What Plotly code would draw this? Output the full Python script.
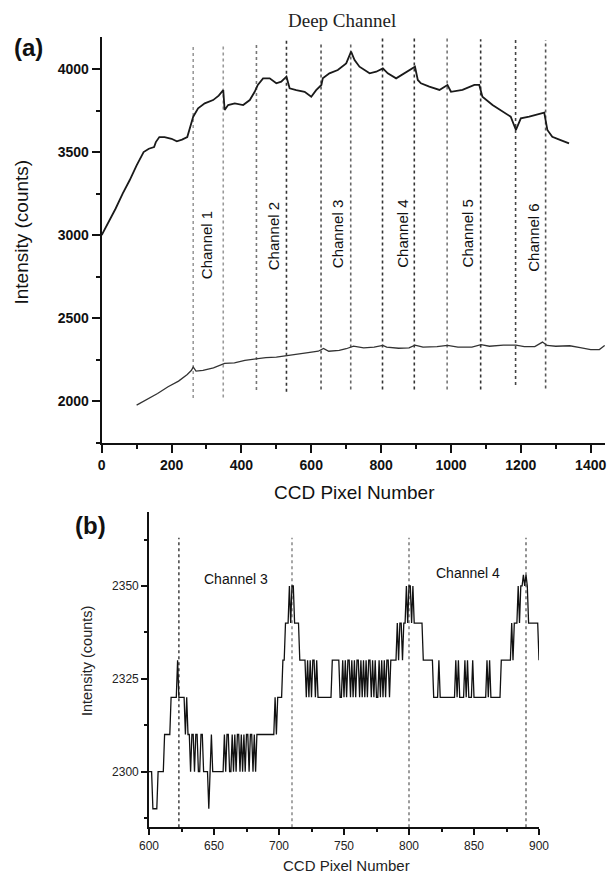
import plotly.graph_objects as go

W, H = 610, 875

# ---------------- Panel (a) data ----------------
deep_x = [0, 20, 40, 60, 80, 100, 120, 135, 150, 155, 165, 180, 200, 215, 230, 245, 252, 262, 276, 295,
          319, 335, 348, 352, 362, 381, 405, 424, 438, 447, 462, 481, 500, 514, 529, 538, 557, 581, 600, 614,
          629, 633, 652, 676, 700, 714, 724, 738, 767, 786, 805, 819, 843, 867, 890, 897, 905, 914, 938, 967,
          990, 1000, 1033, 1067, 1081, 1090, 1119, 1147, 1171, 1186, 1200, 1224, 1267, 1276, 1290, 1314, 1338]
deep_y = [3000, 3080, 3160, 3250, 3330, 3420, 3500, 3520, 3530, 3560, 3590, 3590, 3580, 3565, 3575, 3590, 3643, 3713, 3763, 3793,
          3813, 3840, 3873, 3753, 3783, 3793, 3783, 3813, 3863, 3904, 3944, 3944, 3914, 3924, 3954, 3884, 3873, 3863, 3833, 3873,
          3904, 3944, 3974, 3994, 4034, 4105, 4054, 4014, 3974, 3984, 4004, 3974, 3944, 3974, 4004, 4014, 3934, 3914, 3894, 3874,
          3904, 3863, 3874, 3904, 3904, 3833, 3783, 3743, 3713, 3633, 3703, 3713, 3737, 3633, 3592, 3572, 3552]

ref_x = [100, 130, 160, 190, 220, 245, 257, 262, 270, 290, 320, 352, 380, 410, 447, 470, 500, 536, 560, 591,
         620, 635, 650, 680, 700, 721, 750, 780, 805, 816, 850, 880, 897, 920, 960, 990, 1020, 1060, 1086, 1110,
         1150, 1186, 1210, 1240, 1262, 1275, 1300, 1340, 1370, 1400, 1425, 1440]
ref_y = [1975, 2010, 2045, 2086, 2120, 2160, 2185, 2205, 2180, 2185, 2200, 2227, 2230, 2245, 2257, 2262, 2265, 2277, 2285, 2291,
         2300, 2317, 2300, 2305, 2315, 2331, 2320, 2325, 2335, 2325, 2318, 2320, 2337, 2325, 2328, 2335, 2325, 2325, 2340, 2330,
         2337, 2337, 2328, 2328, 2355, 2335, 2330, 2333, 2322, 2310, 2310, 2335]

boundary_x = [262, 348, 443, 529, 628, 713, 804, 895, 989, 1085, 1185, 1271]
boundary_top = [4150, 4150, 4150, 4180, 4150, 4150, 4190, 4190, 4190, 4180, 4180, 4175]
boundary_bottom = [2018, 2022, 2066, 2056, 2070, 2070, 2070, 2070, 2070, 2070, 2096, 2076]
boundary_color = ["#9a9a9a", "#9a9a9a", "#777777", "#333333", "#555555", "#666666",
                  "#333333", "#333333", "#777777", "#333333", "#444444", "#555555"]

channel_labels = ["Channel 1", "Channel 2", "Channel 3", "Channel 4", "Channel 5", "Channel 6"]
channel_label_x = [302, 492, 674, 859, 1047, 1234]
channel_label_y = [2940, 2990, 3006, 3006, 3012, 2982]

a_xticks = [0, 200, 400, 600, 800, 1000, 1200, 1400]
a_yticks = [2000, 2500, 3000, 3500, 4000]

# ---------------- Panel (b) data ----------------
zoom_x = list(range(600, 901))
zoom_y = [
    2300, 2300, 2300, 2290, 2290, 2290, 2290, 2300, 2300, 2300,  # 600-609
    2300, 2300, 2310, 2310, 2310, 2310, 2310, 2320, 2320, 2320,  # 610-619
    2320, 2320, 2330, 2320, 2320, 2320, 2320, 2320, 2310, 2320,  # 620-629
    2310, 2310, 2300, 2310, 2310, 2300, 2310, 2310, 2300, 2300,  # 630-639
    2310, 2310, 2300, 2300, 2300, 2300, 2290, 2300, 2310, 2300,  # 640-649
    2300, 2300, 2300, 2300, 2300, 2300, 2300, 2300, 2310, 2300,  # 650-659
    2310, 2310, 2300, 2300, 2310, 2300, 2310, 2300, 2310, 2310,  # 660-669
    2300, 2310, 2300, 2310, 2300, 2310, 2310, 2300, 2310, 2310,  # 670-679
    2300, 2310, 2300, 2310, 2310, 2310, 2310, 2310, 2310, 2310,  # 680-689
    2310, 2310, 2310, 2310, 2310, 2310, 2310, 2320, 2310, 2320,  # 690-699
    2320, 2320, 2320, 2330, 2330, 2340, 2340, 2340, 2350, 2340,  # 700-709
    2350, 2350, 2340, 2340, 2340, 2340, 2330, 2330, 2330, 2330,  # 710-719
    2330, 2320, 2330, 2320, 2330, 2320, 2330, 2330, 2320, 2330,  # 720-729
    2320, 2320, 2320, 2320, 2320, 2320, 2320, 2320, 2320, 2320,  # 730-739
    2320, 2330, 2330, 2330, 2330, 2330, 2330, 2320, 2320, 2330,  # 740-749
    2320, 2330, 2320, 2330, 2330, 2320, 2330, 2320, 2330, 2320,  # 750-759
    2330, 2330, 2320, 2330, 2320, 2330, 2320, 2330, 2320, 2330,  # 760-769
    2330, 2320, 2330, 2320, 2330, 2320, 2320, 2330, 2320, 2330,  # 770-779
    2320, 2330, 2320, 2330, 2330, 2320, 2330, 2330, 2330, 2330,  # 780-789
    2330, 2340, 2330, 2340, 2340, 2330, 2340, 2340, 2350, 2340,  # 790-799
    2350, 2350, 2340, 2350, 2340, 2340, 2340, 2340, 2340, 2340,  # 800-809
    2340, 2330, 2330, 2330, 2330, 2330, 2330, 2330, 2330, 2320,  # 810-819
    2320, 2320, 2320, 2330, 2320, 2320, 2320, 2320, 2320, 2320,  # 820-829
    2320, 2320, 2320, 2320, 2320, 2320, 2330, 2320, 2330, 2320,  # 830-839
    2320, 2320, 2320, 2330, 2320, 2330, 2320, 2320, 2320, 2330,  # 840-849
    2320, 2320, 2320, 2320, 2320, 2320, 2320, 2320, 2320, 2320,  # 850-859
    2330, 2320, 2330, 2320, 2320, 2320, 2320, 2320, 2320, 2320,  # 860-869
    2320, 2330, 2330, 2330, 2330, 2330, 2330, 2330, 2330, 2340,  # 870-879
    2330, 2340, 2340, 2340, 2350, 2340, 2350, 2350, 2353, 2350,  # 880-889
    2353, 2350, 2340, 2340, 2340, 2340, 2340, 2340, 2340, 2340,  # 890-899
    2330,                                                        # 900
]

peak_x = [623, 710, 800, 890]
peak_color = ["#222222", "#777777", "#666666", "#555555"]
peak_top = 2363

b_xticks = [600, 650, 700, 750, 800, 850, 900]
b_yticks = [2300, 2325, 2350]

b_labels = ["Channel 3", "Channel 4"]
b_label_x = [641, 819]
b_label_y = [2352, 2353.5]

# ---------------- Figure ----------------
fig = go.Figure()

for xv, yt, yb, c in zip(boundary_x, boundary_top, boundary_bottom, boundary_color):
    fig.add_trace(go.Scatter(x=[xv, xv], y=[yb, yt], mode="lines",
                             line=dict(color=c, width=1.6, dash="dot"),
                             xaxis="x", yaxis="y", showlegend=False, hoverinfo="skip"))

fig.add_trace(go.Scatter(x=deep_x, y=deep_y, mode="lines",
                         line=dict(color="#1a1a1a", width=1.8),
                         xaxis="x", yaxis="y", showlegend=False))
fig.add_trace(go.Scatter(x=ref_x, y=ref_y, mode="lines",
                         line=dict(color="#333333", width=1.3),
                         xaxis="x", yaxis="y", showlegend=False))

for xv, c in zip(peak_x, peak_color):
    fig.add_trace(go.Scatter(x=[xv, xv], y=[2285, peak_top], mode="lines",
                             line=dict(color=c, width=1.3, dash="3px,3px"),
                             xaxis="x2", yaxis="y2", showlegend=False, hoverinfo="skip"))

fig.add_trace(go.Scatter(x=zoom_x, y=zoom_y, mode="lines",
                         line=dict(color="#111111", width=1.3),
                         xaxis="x2", yaxis="y2", showlegend=False))

def px(v):
    return v / W

def py(v):
    return 1 - v / H

bold_tick = dict(family="Liberation Sans, Arial", size=14, color="#111", weight="bold")
small_tick = dict(family="Liberation Sans, Arial", size=12, color="#222")

fig.update_layout(
    template="none",
    width=W, height=H,
    margin=dict(l=0, r=0, t=0, b=0, autoexpand=False),
    paper_bgcolor="white", plot_bgcolor="white",
    xaxis=dict(domain=[px(101.7), px(605)], range=[0, 1441], anchor="y", automargin=False,
               showgrid=False, zeroline=False, showline=True, linecolor="#111", linewidth=2,
               tickmode="array", tickvals=a_xticks, ticks="outside", ticklen=8, tickwidth=2,
               tickcolor="#111", tickfont=bold_tick,
               minor=dict(ticks="outside", ticklen=4, tickwidth=2, dtick=100, tick0=0, tickcolor="#111")),
    yaxis=dict(domain=[py(442.7), py(37)], range=[1749, 4193], anchor="x", automargin=False,
               showgrid=False, zeroline=False, showline=True, linecolor="#111", linewidth=2,
               tickmode="array", tickvals=a_yticks, ticks="outside", ticklen=8, tickwidth=2,
               tickcolor="#111", tickfont=bold_tick,
               minor=dict(ticks="outside", ticklen=4, tickwidth=2, dtick=250, tick0=0, tickcolor="#111")),
    xaxis2=dict(domain=[px(149), px(539)], range=[600, 900], anchor="y2", automargin=False,
                showgrid=False, zeroline=False, showline=True, linecolor="#111", linewidth=1.6,
                tickmode="array", tickvals=b_xticks, ticks="outside", ticklen=6, tickwidth=1.5,
                tickcolor="#111", tickfont=small_tick,
                minor=dict(ticks="outside", ticklen=3, tickwidth=1.5, dtick=25, tick0=600, tickcolor="#111")),
    yaxis2=dict(domain=[py(827.3), py(511.7)], range=[2285, 2370], anchor="x2", automargin=False,
                showgrid=False, zeroline=False, showline=True, linecolor="#111", linewidth=1.6,
                tickmode="array", tickvals=b_yticks, ticks="outside", ticklen=6, tickwidth=1.5,
                tickcolor="#111", tickfont=small_tick,
                minor=dict(ticks="outside", ticklen=3, tickwidth=1.5, dtick=12.5, tick0=2300, tickcolor="#111")),
)

ann = []
sans = "Liberation Sans, Arial"
for t, xv, yv in zip(channel_labels, channel_label_x, channel_label_y):
    ann.append(dict(x=xv, y=yv, xref="x", yref="y", text=t, textangle=-90, showarrow=False,
                    font=dict(family=sans, size=15, color="#111"), xanchor="center", yanchor="middle"))
for t, xv, yv in zip(b_labels, b_label_x, b_label_y):
    ann.append(dict(x=xv, y=yv, xref="x2", yref="y2", text=t, showarrow=False,
                    font=dict(family=sans, size=14, color="#111"), xanchor="left", yanchor="middle"))

ann += [
    dict(x=px(342), y=py(20), xref="paper", yref="paper", text="Deep Channel", showarrow=False,
         font=dict(family="Liberation Serif, Times New Roman", size=19, color="#222"),
         xanchor="center", yanchor="middle"),
    dict(x=px(28), y=py(47), xref="paper", yref="paper", text="<b>(a)</b>", showarrow=False,
         font=dict(family=sans, size=24, color="#111"), xanchor="center", yanchor="middle"),
    dict(x=px(90.5), y=py(525), xref="paper", yref="paper", text="<b>(b)</b>", showarrow=False,
         font=dict(family=sans, size=24, color="#111"), xanchor="center", yanchor="middle"),
    dict(x=px(21.5), y=py(232), xref="paper", yref="paper", text="Intensity (counts)", textangle=-90,
         showarrow=False, font=dict(family=sans, size=19, color="#111"), xanchor="center", yanchor="middle"),
    dict(x=px(354), y=py(493), xref="paper", yref="paper", text="CCD Pixel Number", showarrow=False,
         font=dict(family=sans, size=19, color="#111"), xanchor="center", yanchor="middle"),
    dict(x=px(87), y=py(661), xref="paper", yref="paper", text="Intensity (counts)", textangle=-90,
         showarrow=False, font=dict(family=sans, size=14.5, color="#222"), xanchor="center", yanchor="middle"),
    dict(x=px(346), y=py(865), xref="paper", yref="paper", text="CCD Pixel Number", showarrow=False,
         font=dict(family=sans, size=15, color="#222"), xanchor="center", yanchor="middle"),
]
fig.update_layout(annotations=ann)

fig.write_html(
    "out.html",
    config=dict(displayModeBar=False),
    post_script="document.body.style.margin='0px';document.body.style.padding='0px';document.body.style.overflow='hidden';",
)
